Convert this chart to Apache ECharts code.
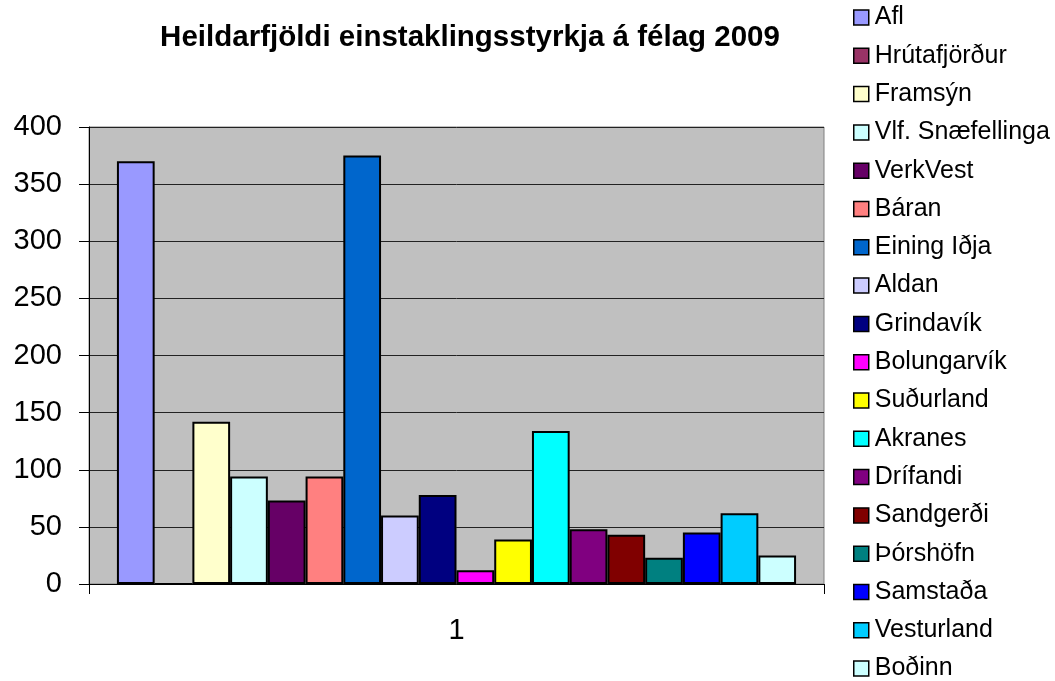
<!DOCTYPE html>
<html>
<head>
<meta charset="utf-8">
<script src="https://cdn.jsdelivr.net/npm/echarts@6/dist/echarts.min.js"></script>
<style>
  html, body { margin: 0; padding: 0; background: #fff; }
  #main { width: 1055px; height: 681px; }
</style>
</head>
<body>
<div id="main"></div>
<script>
// gögn lesin af myndinni
const categories = ['1'];
const names = ['Afl', 'Hrútafjörður', 'Framsýn', 'Vlf. Snæfellinga', 'VerkVest', 'Báran',
  'Eining Iðja', 'Aldan', 'Grindavík', 'Bolungarvík', 'Suðurland', 'Akranes',
  'Drífandi', 'Sandgerði', 'Þórshöfn', 'Samstaða', 'Vesturland', 'Boðinn'];
const values = [370, 0, 142, 94, 73, 94, 375, 60, 78, 12, 39, 134, 48, 43, 23, 45, 62, 25];
const colors = ['#9999FF', '#993366', '#FFFFCC', '#CCFFFF', '#660066', '#FF8080',
  '#0066CC', '#CCCCFF', '#000080', '#FF00FF', '#FFFF00', '#00FFFF',
  '#800080', '#800000', '#008080', '#0000FF', '#00CCFF', '#CCFFFF'];
const yTicks = [0, 50, 100, 150, 200, 250, 300, 350, 400];

let chart = echarts.init(document.getElementById('main'));

let option = {
  animation: false,
  textStyle: { fontFamily: 'Liberation Sans, Arial, sans-serif' },
  title: {
    text: 'Heildarfjöldi einstaklingsstyrkja á félag 2009',
    left: 470,
    textAlign: 'center',
    top: 23,
    padding: 0,
    textStyle: { fontSize: 29.5, fontWeight: 'bold', color: '#000', fontFamily: 'Liberation Sans, Arial, sans-serif' }
  },
  legend: {
    orient: 'vertical',
    left: 853,
    top: 5,
    padding: 0,
    height: 700,
    itemWidth: 15,
    itemHeight: 15,
    itemGap: 13.3,
    icon: 'rect',
    data: names,
    itemStyle: { borderColor: '#000', borderWidth: 1.5 },
    textStyle: { fontSize: 25, color: '#000', lineHeight: 25, padding: [0, 0, 0, 1] }
  },
  grid: {
    left: 89,
    right: 231,
    top: 127,
    bottom: 97,
    show: true,
    backgroundColor: '#C0C0C0',
    borderColor: '#808080',
    borderWidth: 1
  },
  xAxis: {
    type: 'category',
    data: categories,
    axisLine: { lineStyle: { color: '#000', width: 1 } },
    axisTick: { show: true, length: 10, lineStyle: { color: '#000' } },
    axisLabel: { fontSize: 29, color: '#000', margin: 32 }
  },
  yAxis: {
    type: 'value',
    min: yTicks[0],
    max: yTicks[yTicks.length - 1],
    interval: 50,
    axisLine: { show: true, lineStyle: { color: '#000', width: 1 } },
    axisTick: { show: true, length: 10, lineStyle: { color: '#000' } },
    axisLabel: { fontSize: 29, color: '#000', margin: 27 },
    splitLine: { lineStyle: { color: '#222', width: 1 } }
  },
  series: names.map(function (name, i) {
    return {
      name: name,
      type: 'bar',
      data: [values[i]],
      barGap: '0%',
      barCategoryGap: '7.6%',
      itemStyle: { color: colors[i], borderColor: '#000', borderWidth: 2 }
    };
  })
};

chart.setOption(option);
window.addEventListener('resize', () => {
  chart.resize();
});
</script>
</body>
</html>
